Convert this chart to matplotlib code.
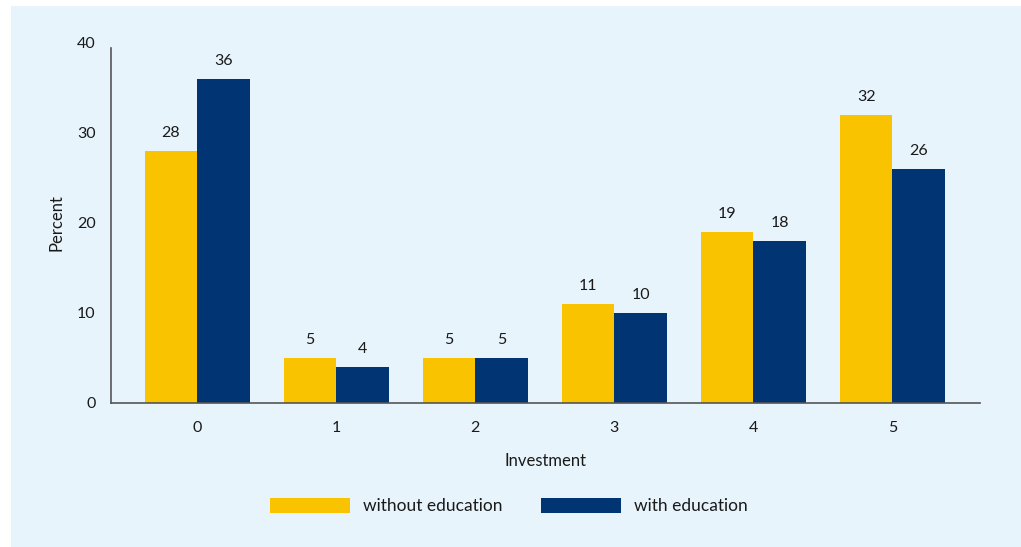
import matplotlib.pyplot as plt
import numpy as np
from matplotlib.patches import Rectangle

plt.rcParams['font.family'] = ['Lato', 'DejaVu Sans']

investment = ['0', '1', '2', '3', '4', '5']
without_education = [28, 5, 5, 11, 19, 32]
with_education = [36, 4, 5, 10, 18, 26]

yellow = '#f9c300'
navy = '#003473'
panel = '#e8f4fc'
text_col = '#1a1a1a'

fig = plt.figure(figsize=(10.21, 5.47), dpi=100, facecolor='white')

# light blue panel behind everything
fig.patches.append(Rectangle((11 / 1021, 0), 1 - 11 / 1021, 1 - 6 / 547,
                             transform=fig.transFigure, facecolor=panel,
                             edgecolor='none', zorder=-10))

ax = fig.add_axes([111 / 1021, 1 - 403 / 547, (980 - 111) / 1021, (403 - 43) / 547])
ax.set_facecolor('none')

x = np.arange(len(investment))
w = 0.378
b1 = ax.bar(x - w / 2, without_education, w, color=yellow, label='without education')
b2 = ax.bar(x + w / 2, with_education, w, color=navy, label='with education')

for bars in (b1, b2):
    for rect in bars:
        h = rect.get_height()
        ax.annotate(f'{h:g}', (rect.get_x() + rect.get_width() / 2, h),
                    xytext=(0, 8), textcoords='offset points',
                    ha='center', va='bottom', fontsize=11.5, color=text_col)

ax.set_xlim(-0.62, 5.63)
ax.set_ylim(0, 40)
ax.set_yticks([0, 10, 20, 30, 40])
ax.set_xticks(x)
ax.set_xticklabels(investment)

for s in ('top', 'right'):
    ax.spines[s].set_visible(False)
for s in ('left', 'bottom'):
    ax.spines[s].set_color('#555555')
    ax.spines[s].set_linewidth(1.2)
ax.spines['left'].set_bounds(0, 39.5)

ax.tick_params(length=0, labelsize=11.5, colors=text_col)
ax.tick_params(axis='x', pad=13)
ax.tick_params(axis='y', pad=11)

ax.set_xlabel('Investment', fontsize=12, color=text_col, labelpad=13)
ax.set_ylabel('Percent', fontsize=12, color=text_col, labelpad=9)

fig.legend(handles=[b1, b2], loc='center', bbox_to_anchor=(0.4985, 1 - 506 / 547),
           ncol=2, frameon=False, fontsize=12.5, handlelength=4.6, handleheight=1.0,
           handletextpad=0.75, columnspacing=2.2, labelcolor=text_col)

fig.savefig('out.png', dpi=100, facecolor='white')
